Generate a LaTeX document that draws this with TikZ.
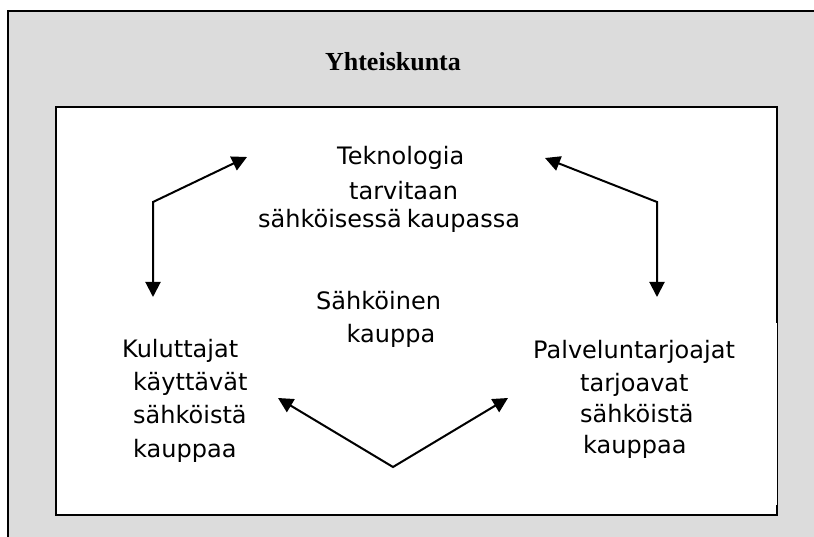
\documentclass[tikz,border=0pt]{standalone}
\usepackage{fontspec}
\setmainfont{Liberation Serif}
\newfontfamily\labelfont{DejaVu Sans}
\usetikzlibrary{arrows.meta}
\definecolor{bggray}{RGB}{220,220,220}
\begin{document}
\begin{tikzpicture}[x=1pt,y=-1pt,
  lbl/.style={anchor=base west, inner sep=0pt, font=\labelfont\fontsize{24}{28}\selectfont},
  lblc/.style={anchor=base, inner sep=0pt, font=\labelfont\fontsize{24}{28}\selectfont},
  arr/.style={line width=2pt, {Triangle[length=15pt,width=15pt]}-{Triangle[length=15pt,width=15pt]}}
]
\useasboundingbox (0,0) rectangle (814,537);
% outer grey frame (society)
\fill[bggray] (8,11) rectangle (814,537);
\draw[line width=2.5pt] (8,540) -- (8,11) -- (816,11);
% inner white box (e-commerce)
\fill[white] (56,107) rectangle (777,515);
\draw[line width=2pt] (777,323) -- (777,107) -- (56,107) -- (56,515) -- (777,515) -- (777,505);
\draw[line width=0.8pt] (777,323) -- (777,505);

\node[anchor=base, inner sep=0pt, font=\bfseries\fontsize{26}{30}\selectfont] (title) at (393,71) {Yhteiskunta};

% technology
\node[lbl] (tek1) at (337,165) {Teknologia};
\node[lbl] (tek2) at (349,200) {tarvitaan};
\node[lblc] (tek3) at (389,228) {sähköisessä\hspace{5pt}kaupassa};

% centre
\node[lbl] (sah1) at (316,310) {Sähköinen};
\node[lblc] (sah2) at (391,343) {kauppa};

% consumers
\node[lbl] (kul1) at (122,357) {Kuluttajat};
\node[lbl] (kul2) at (133,390) {käyttävät};
\node[lbl] (kul3) at (133,423) {sähköistä};
\node[lbl] (kul4) at (133,457) {kauppaa};

% providers
\node[lbl] (pal1) at (533,359) {Palveluntarjoajat};
\node[lbl] (pal2) at (580,391) {tarjoavat};
\node[lbl] (pal3) at (580,422) {sähköistä};
\node[lbl] (pal4) at (583,453) {kauppaa};

% arrows
\coordinate (lt) at (247,157);
\coordinate (lc) at (153,202);
\coordinate (lb) at (153,297);
\coordinate (rt) at (545,158);
\coordinate (rc) at (657,202);
\coordinate (rb) at (657,297);
\coordinate (bl) at (278,398);
\coordinate (bc) at (393,467);
\coordinate (br) at (508,398);
\draw[arr] (lb) -- (lc) -- (lt);
\draw[arr] (rt) -- (rc) -- (rb);
\draw[arr] (bl) -- (bc) -- (br);
\end{tikzpicture}
\end{document}
